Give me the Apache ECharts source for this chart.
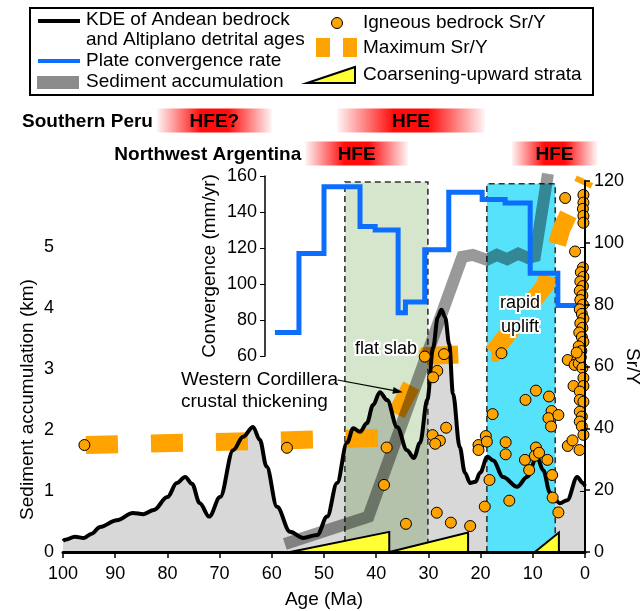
<!DOCTYPE html>
<html>
<head>
<meta charset="utf-8">
<script src="https://cdn.jsdelivr.net/npm/echarts@6/dist/echarts.min.js"></script>
<style>
  html, body { margin: 0; padding: 0; background: #fff; }
  #chart { width: 643px; height: 611px; }
</style>
</head>
<body>
<div id="chart"></div>
<script>
const FONT = '"Liberation Sans", Arial, Helvetica, sans-serif';

// KDE of Andean bedrock and Altiplano detrital ages (drawn on the km scale)
const kdeAge = [100, 99.6, 97.7, 96, 94.5, 92.9, 89.7, 86.6, 84.6, 82.6, 80, 78.2, 76.6, 75.3, 73.8, 72, 69.9,
  67.4, 65.5, 63.6, 62.3, 61, 59, 56.5, 54, 51.3, 49.4, 47.5, 45.6, 44.4, 43.1, 41.8, 40.6, 39.3, 37.9, 36,
  34.1, 32.8, 31.6, 30.2, 29.1, 28.2, 27.5, 26.8, 26, 25.3, 24, 23, 22, 21, 20.1, 18.7, 17.6, 15.7, 13,
  11.1, 9.2, 8, 6.7, 4.8, 3.4, 1.5, 0.4, 0];
const kdeVal = [0.18, 0.2, 0.25, 0.23, 0.3, 0.41, 0.52, 0.64, 0.62, 0.69, 0.9, 1.13, 1.23, 1.12, 0.8, 0.58, 0.9,
  1.67, 1.89, 2.05, 1.84, 1.4, 0.74, 0.33, 0.23, 0.28, 0.58, 1.13, 1.79, 2.03, 1.97, 2.11, 2.41, 2.62, 2.49, 2.05,
  1.67, 1.54, 1.79, 2.5, 3.35, 3.85, 3.97, 3.85, 3.4, 2.6, 1.72, 1.3, 1.13, 1.15, 1.3, 1.56, 1.5, 1.23, 1.07,
  1.23, 1.56, 1.34, 0.97, 0.8, 0.85, 1.23, 1.13, 1.08];

// Sediment accumulation (km)
const sedAge = [57.5, 41.5, 23.5, 21.5, 18.8, 16.9, 14.9, 12.8, 10.9, 9.6, 7.1];
const sedKm  = [0.13, 0.58, 4.84, 4.87, 4.79, 4.87, 4.80, 4.89, 4.82, 4.85, 6.2];

// Plate convergence rate (mm/yr), stepwise from each start age
const convAge  = [59.4, 54.8, 50.0, 43.1, 40.2, 35.8, 34.4, 30.7, 26.1, 19.7, 15.3, 10.5, 5.2, 0];
const convRate = [73, 117, 154, 132, 130, 84, 90, 119, 151, 147, 145, 106, 88, 88];

// Maximum Sr/Y trend
const maxSrAge = [95.6, 38.5, 30.3, 17.6, 7.6, 4.5, 0];
const maxSrVal = [34.6, 36.9, 63.4, 64.4, 86.4, 104.5, 120.5];

// Igneous bedrock Sr/Y
const srAge = [95.9, 57.1, 38.0, 38.5, 34.3, 30.7, 27.0, 28.3, 29.1, 26.6, 29.2, 27.8, 28.7, 28.4, 25.7, 22.0,
  19.0, 20.4, 20.4, 18.8, 19.2, 18.3, 17.7, 16.0, 15.2, 15.2, 14.5, 11.5, 11.4, 10.7, 9.4, 9.4, 9.6, 8.8, 7.2,
  6.9, 6.4, 7.0, 6.5, 5.1, 6.3, 6.2, 5.1, 3.8, 1.9, 3.3, 2.2, 3.3, 2.4, 1.05,
  0.3, 0.3, 0.4, 0.3, 0.3,
  0.4, 0.8, 0.3, 0.9, 0.4, 1.0, 0.5, 0.9, 0.4, 1.0, 0.6, 0.3, 0.9, 0.5, 1.1, 0.6, 0.3, 1.2, 0.7, 1.5, 2.0, 1.2, 0.8, 1.6, 0.5,
  0.3, 0.3, 1.0, 1.0, 0.3, 1.0, 0.6, 1.0, 0.6, 0.3];
const srVal = [34.6, 33.7, 33.8, 21.7, 9.1, 63.2, 64.0, 58.6, 56.5, 40.2, 37.8, 36.0, 35.0, 12.7, 9.5, 8.4,
  37.5, 34.6, 33.0, 35.7, 14.7, 23.3, 44.6, 64.3, 35.5, 31.6, 16.6, 29.8, 49.2, 26.5, 52.2, 33.8, 31.1, 32.1, 29.8,
  50.3, 45.6, 43.3, 40.6, 44.3, 24.9, 17.6, 12.8, 114.5, 97.2, 62.1, 53.7, 34.3, 36.1, 33.0,
  115.5, 113, 111, 108.7, 106.5,
  92, 90.5, 89, 87.5, 86, 84.5, 83, 81.5, 80, 78.5, 77, 75.5, 74, 72.5, 71, 69.5, 68, 66.5, 65, 62, 60.5, 61, 63, 64.5, 59.5,
  56.3, 53.7, 51.9, 49.2, 48.6, 45.4, 43.8, 42.2, 40.6, 37.9];

// Coarsening-upward strata: start age, end age, thickness (km)
const strataStart  = [56.5, 37.5, 9.6];
const strataEnd    = [37.5, 22.4, 5.0];
const strataHeight = [0.33, 0.32, 0.32];

// Shaded intervals: flat slab and rapid uplift (age span, top in Sr/Y units)
const boxStart = [46.0, 18.8];
const boxEnd   = [30.1, 5.7];
const boxTop   = [119.7, 119.1];
const boxFill  = ['#d5e6cc', '#55e2fa'];

// High-flux events
const hfeRegions = ['Southern Peru', 'Northwest Argentina'];
const hfeRow   = [0, 0, 1, 1];
const hfeStart = [82.0, 47.5, 53.6, 14.0];
const hfeEnd   = [60.0, 19.2, 33.9, -2.3];
const hfeText  = ['HFE?', 'HFE', 'HFE', 'HFE'];

// Callout arrow for Western Cordillera thickening (age, km from -> to)
const calloutFrom = [47.4, 2.82];
const calloutTo   = [34.9, 2.62];

const pair = (a, b) => a.map((v, i) => [v, b[i]]);

const chart = echarts.init(document.getElementById('chart'), null, { renderer: 'canvas' });

const txt = { color: '#000', fontFamily: FONT };
const hiddenX = gi => ({ gridIndex: gi, type: 'value', min: 0, max: 100, inverse: true, show: false });

function boxRect(params, api) {
  const tl = api.coord([api.value(0), api.value(2)]);
  const br = api.coord([api.value(1), 0]);
  return { type: 'rect', shape: { x: tl[0], y: tl[1], width: br[0] - tl[0], height: br[1] - tl[1] },
    style: { fill: boxFill[api.value(3)] } };
}

const hfeGradient = new echarts.graphic.LinearGradient(0, 0, 1, 0, [
  { offset: 0, color: 'rgba(255,0,0,0.04)' },
  { offset: 0.38, color: 'rgba(255,0,0,0.95)' },
  { offset: 0.62, color: 'rgba(255,0,0,0.95)' },
  { offset: 1, color: 'rgba(255,0,0,0.04)' }
]);

const gridBase = { left: 63, right: 58, containLabel: false, outerBoundsMode: 'none' };

const option = {
  animation: false,
  backgroundColor: '#fff',
  textStyle: { fontFamily: FONT },
  grid: [
    Object.assign({ top: 247, bottom: 59 }, gridBase),   // km / KDE
    Object.assign({ top: 181, bottom: 59 }, gridBase),   // Sr/Y
    Object.assign({ top: 176, bottom: 255 }, gridBase),  // convergence
    Object.assign({ top: 104, height: 66 }, gridBase)    // HFE rows
  ],
  xAxis: [
    { gridIndex: 0, type: 'value', min: 0, max: 100, interval: 10, inverse: true, z: 30,
      name: 'Age (Ma)', nameLocation: 'middle', nameGap: 38, nameMoveOverlap: false,
      nameTextStyle: Object.assign({ fontSize: 19 }, txt),
      axisLine: { lineStyle: { color: '#000', width: 3 } },
      axisTick: { length: 6, lineStyle: { color: '#000', width: 1.5 } },
      axisLabel: Object.assign({ fontSize: 18, margin: 13 }, txt),
      splitLine: { show: false } },
    hiddenX(1), hiddenX(2), hiddenX(3)
  ],
  yAxis: [
    { gridIndex: 0, type: 'value', min: 0, max: 5, interval: 1, z: 30,
      name: 'Sediment accumulation (km)', nameLocation: 'middle', nameGap: 26, nameRotate: 90, nameMoveOverlap: false,
      nameTextStyle: Object.assign({ fontSize: 19 }, txt),
      axisLine: { show: true, lineStyle: { color: '#000', width: 1 } },
      axisTick: { show: true, length: 5, lineStyle: { color: '#000' } },
      axisLabel: Object.assign({ fontSize: 18, margin: 9 }, txt),
      splitLine: { show: false } },
    { gridIndex: 1, type: 'value', position: 'right', min: 0, max: 120, interval: 20, z: 30,
      name: 'Sr/Y', nameLocation: 'middle', nameGap: 38, nameRotate: -90, nameMoveOverlap: false,
      nameTextStyle: Object.assign({ fontSize: 19 }, txt),
      axisLine: { show: true, lineStyle: { color: '#000', width: 2 } },
      axisTick: { show: true, length: 5, lineStyle: { color: '#000', width: 1.5 } },
      axisLabel: Object.assign({ fontSize: 18, margin: 9 }, txt),
      splitLine: { show: false } },
    { gridIndex: 2, type: 'value', min: 60, max: 160, interval: 20, offset: -202, z: 30,
      name: 'Convergence (mm/yr)', nameLocation: 'middle', nameGap: 46, nameRotate: 90, nameMoveOverlap: false,
      nameTextStyle: Object.assign({ fontSize: 19 }, txt),
      axisLine: { show: true, onZero: false, lineStyle: { color: '#000', width: 1.5 } },
      axisTick: { show: true, length: 5, lineStyle: { color: '#000' } },
      axisLabel: Object.assign({ fontSize: 18, margin: 8 }, txt),
      splitLine: { show: false } },
    { gridIndex: 3, type: 'category', data: hfeRegions, inverse: true, show: false }
  ],
  series: [
    // flat slab shading
    { type: 'custom', xAxisIndex: 1, yAxisIndex: 1, z: 1, silent: true,
      data: [[boxStart[0], boxEnd[0], boxTop[0], 0]], renderItem: boxRect },
    // KDE fill
    { type: 'line', xAxisIndex: 0, yAxisIndex: 0, z: 2, silent: true, smooth: 0.35, smoothMonotone: 'x',
      showSymbol: false, symbol: 'none', lineStyle: { width: 0 },
      areaStyle: { color: 'rgba(0,0,0,0.216)', origin: 'start' },
      data: pair(kdeAge, kdeVal) },
    // rapid uplift shading
    { type: 'custom', xAxisIndex: 1, yAxisIndex: 1, z: 3, silent: true,
      data: [[boxStart[1], boxEnd[1], boxTop[1], 1]], renderItem: boxRect },
    // dashed outlines of the shaded intervals
    { type: 'custom', xAxisIndex: 1, yAxisIndex: 1, z: 4, silent: true,
      data: boxStart.map((s, i) => [s, boxEnd[i], boxTop[i]]),
      renderItem(params, api) {
        const x0 = api.value(0), x1 = api.value(1), t = api.value(2);
        return { type: 'polyline',
          shape: { points: [api.coord([x0, 0]), api.coord([x0, t]), api.coord([x1, t]), api.coord([x1, 0])] },
          style: { fill: null, stroke: '#333', lineWidth: 1.6, lineDash: [6, 4] } };
      } },
    // maximum Sr/Y
    { type: 'line', name: 'Maximum Sr/Y', xAxisIndex: 1, yAxisIndex: 1, z: 5, silent: true, clip: false,
      showSymbol: false, symbol: 'none',
      lineStyle: { color: '#ffa300', width: 18, type: [32, 33], cap: 'butt', join: 'miter' },
      data: pair(maxSrAge, maxSrVal) },
    // sediment accumulation
    { type: 'line', name: 'Sediment accumulation', xAxisIndex: 0, yAxisIndex: 0, z: 6, silent: true, clip: false,
      showSymbol: false, symbol: 'none',
      lineStyle: { color: 'rgba(0,0,0,0.4)', width: 12, cap: 'butt', join: 'miter' },
      data: pair(sedAge, sedKm) },
    // plate convergence rate
    { type: 'line', name: 'Plate convergence rate', xAxisIndex: 2, yAxisIndex: 2, z: 7, silent: true, clip: false,
      step: 'end', showSymbol: false, symbol: 'none',
      lineStyle: { color: '#0d6efd', width: 5, join: 'miter' },
      data: pair(convAge, convRate) },
    // coarsening-upward strata
    { type: 'custom', xAxisIndex: 0, yAxisIndex: 0, z: 8, silent: true,
      data: strataStart.map((s, i) => [s, strataEnd[i], strataHeight[i]]),
      renderItem(params, api) {
        const a = api.coord([api.value(0), 0]);
        const b = api.coord([api.value(1), 0]);
        const c = api.coord([api.value(1), api.value(2)]);
        return { type: 'polygon', shape: { points: [a, b, c] },
          style: { fill: '#ffff33', stroke: '#000', lineWidth: 2 } };
      } },
    // KDE curve
    { type: 'line', name: 'KDE', xAxisIndex: 0, yAxisIndex: 0, z: 9, silent: true, smooth: 0.35, smoothMonotone: 'x',
      showSymbol: false, symbol: 'none',
      lineStyle: { color: '#000', width: 4 },
      data: pair(kdeAge, kdeVal) },
    // callout arrow
    { type: 'custom', xAxisIndex: 0, yAxisIndex: 0, z: 9, silent: true, clip: false,
      data: [[calloutFrom[0], calloutFrom[1], calloutTo[0], calloutTo[1]]],
      renderItem(params, api) {
        const p0 = api.coord([api.value(0), api.value(1)]);
        const p1 = api.coord([api.value(2), api.value(3)]);
        const ang = Math.atan2(p1[1] - p0[1], p1[0] - p0[0]);
        const L = 10, W = 3.5;
        const bx = p1[0] - L * Math.cos(ang), by = p1[1] - L * Math.sin(ang);
        const nx = -Math.sin(ang) * W, ny = Math.cos(ang) * W;
        return { type: 'group', children: [
          { type: 'line', shape: { x1: p0[0], y1: p0[1], x2: bx, y2: by }, style: { stroke: '#000', lineWidth: 1.2 } },
          { type: 'polygon', shape: { points: [p1, [bx + nx, by + ny], [bx - nx, by - ny]] }, style: { fill: '#000' } }
        ] };
      } },
    // igneous bedrock Sr/Y
    { type: 'scatter', name: 'Igneous bedrock Sr/Y', xAxisIndex: 1, yAxisIndex: 1, z: 10, silent: true,
      symbol: 'circle', symbolSize: 11,
      itemStyle: { color: '#ffa300', borderColor: '#000', borderWidth: 1, opacity: 1 },
      data: pair(srAge, srVal) },
    // HFE bars
    { type: 'custom', xAxisIndex: 3, yAxisIndex: 3, z: 10, silent: true, clip: false,
      data: hfeRow.map((r, i) => [hfeStart[i], hfeEnd[i], r, i]),
      renderItem(params, api) {
        const i = api.value(3);
        const row = hfeRow[i];
        const p0 = api.coord([api.value(0), row]);
        const p1 = api.coord([api.value(1), row]);
        const h = 24;
        const children = [
          { type: 'rect', shape: { x: p0[0], y: p0[1] - h / 2, width: p1[0] - p0[0], height: h },
            style: { fill: hfeGradient } },
          { type: 'text', x: (p0[0] + p1[0]) / 2, y: p0[1] + 1,
            style: { text: hfeText[i], fill: '#000', font: 'bold 19px ' + FONT, align: 'center', verticalAlign: 'middle' } }
        ];
        if (hfeRow.indexOf(row) === i) {
          children.push({ type: 'text', x: p0[0] - 4, y: p0[1] + 1,
            style: { text: hfeRegions[row], fill: '#000', font: 'bold 19px ' + FONT, align: 'right', verticalAlign: 'middle' } });
        }
        return { type: 'group', children };
      } }
  ],
  graphic: [
    // legend
    { type: 'rect', z: 50, shape: { x: 30, y: 8, width: 563, height: 87 }, style: { fill: '#fff', stroke: '#000', lineWidth: 2 } },
    { type: 'line', z: 51, shape: { x1: 38, y1: 21, x2: 80, y2: 21 }, style: { stroke: '#000', lineWidth: 4 } },
    { type: 'text', z: 51, x: 86, y: 20, style: { text: 'KDE of Andean bedrock', font: '19px ' + FONT, fill: '#000', verticalAlign: 'middle' } },
    { type: 'text', z: 51, x: 86, y: 40, style: { text: 'and Altiplano detrital ages', font: '19px ' + FONT, fill: '#000', verticalAlign: 'middle' } },
    { type: 'line', z: 51, shape: { x1: 38, y1: 61, x2: 80, y2: 61 }, style: { stroke: '#0d6efd', lineWidth: 4 } },
    { type: 'text', z: 51, x: 86, y: 61, style: { text: 'Plate convergence rate', font: '19px ' + FONT, fill: '#000', verticalAlign: 'middle' } },
    { type: 'rect', z: 51, shape: { x: 37, y: 76, width: 42, height: 13 }, style: { fill: '#8c8c8c' } },
    { type: 'text', z: 51, x: 86, y: 82, style: { text: 'Sediment accumulation', font: '19px ' + FONT, fill: '#000', verticalAlign: 'middle' } },
    { type: 'circle', z: 51, shape: { cx: 337, cy: 23, r: 5.5 }, style: { fill: '#ffa300', stroke: '#000', lineWidth: 1 } },
    { type: 'text', z: 51, x: 363, y: 23, style: { text: 'Igneous bedrock Sr/Y', font: '19px ' + FONT, fill: '#000', verticalAlign: 'middle' } },
    { type: 'rect', z: 51, shape: { x: 316, y: 38, width: 14, height: 19 }, style: { fill: '#ffa300' } },
    { type: 'rect', z: 51, shape: { x: 343, y: 38, width: 14, height: 19 }, style: { fill: '#ffa300' } },
    { type: 'text', z: 51, x: 363, y: 48, style: { text: 'Maximum Sr/Y', font: '19px ' + FONT, fill: '#000', verticalAlign: 'middle' } },
    { type: 'polygon', z: 51, shape: { points: [[307, 83], [355, 83], [355, 67]] }, style: { fill: '#ffff33', stroke: '#000', lineWidth: 2 } },
    { type: 'text', z: 51, x: 363, y: 75, style: { text: 'Coarsening-upward strata', font: '19px ' + FONT, fill: '#000', verticalAlign: 'middle' } },
    // annotations
    { type: 'text', z: 40, x: 386, y: 349, style: { text: 'flat slab', font: '18px ' + FONT, fill: '#000', align: 'center', verticalAlign: 'middle', stroke: '#fff', lineWidth: 4 } },
    { type: 'text', z: 40, x: 520, y: 315, style: { text: 'rapid\nuplift', font: '18px ' + FONT, lineHeight: 24, fill: '#000', align: 'center', verticalAlign: 'middle', stroke: '#fff', lineWidth: 4 } },
    { type: 'text', z: 40, x: 181, y: 391, style: { text: 'Western Cordillera\ncrustal thickening', font: '19px ' + FONT, lineHeight: 22, fill: '#000', align: 'left', verticalAlign: 'middle' } }
  ]
};

chart.setOption(option);
</script>
</body>
</html>
